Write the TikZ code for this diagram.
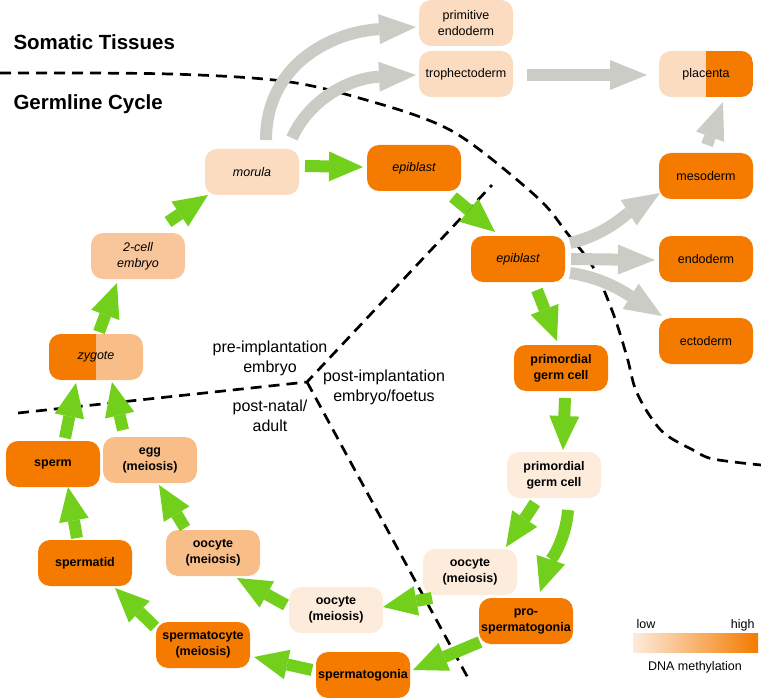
\documentclass[tikz,border=0pt]{standalone}
\usepackage{fontspec}
\setmainfont{Liberation Sans}
\usetikzlibrary{arrows.meta,calc}
\definecolor{dark}{HTML}{F47B00}
\definecolor{med}{HTML}{F9BE88}
\definecolor{medtwo}{HTML}{F9C69C}
\definecolor{lite}{HTML}{FBDCC1}
\definecolor{pale}{HTML}{FDEBDC}
\definecolor{grn}{HTML}{72CF1B}
\definecolor{gry}{HTML}{CCCCC7}
\begin{document}
\begin{tikzpicture}[x=1pt,y=-1pt,
  box/.style={rounded corners=12pt,minimum width=94pt,minimum height=46pt,inner sep=0pt,align=center,font=\fontsize{12.5}{16}\selectfont},
  germ/.style={box,font=\fontsize{12.5}{16}\selectfont\bfseries},
  emb/.style={box,font=\fontsize{12.5}{16}\selectfont\itshape},
  garrow/.style={draw=grn,line width=12pt,-{Triangle[length=34pt,width=30pt,line width=0pt]}},
  sarrow/.style={draw=gry,line width=12pt,-{Triangle[length=37pt,width=30pt,line width=0pt]}},
  dline/.style={draw=black,line width=2.7pt,dash pattern=on 11pt off 7pt},
  region/.style={align=center,font=\fontsize{16}{20}\selectfont},
  head/.style={anchor=west,font=\fontsize{20.5}{24}\selectfont\bfseries},
  leg/.style={font=\fontsize{12.5}{15}\selectfont}]
\useasboundingbox (0,0) rectangle (761,698);

% dashed separators
\draw[dline] plot[smooth,tension=0.55] coordinates {(0,73) (170,74) (290,82) (380,104) (440,125) (480,150) (540,200) (567,233) (593,267) (613,313) (627,357) (635,388) (648,413) (665,434) (693,450) (713,459) (761,465)};
\draw[dline] (18,413) -- (307,382) -- (492,185);
\draw[dline] (307,382) -- (468,678);

% headings
\node[head] (som) at (10,42) {Somatic Tissues};
\node[head] (gcy) at (10,104) {Germline Cycle};

% region labels
\node[region] (pre) at (270,358) {pre-implantation\\embryo};
\node[region] (post) at (384,387) {post-implantation\\embryo/foetus};
\node[region] (adult) at (270,416) {post-natal/\\adult};

% somatic nodes
\node[box,fill=lite] (prim) at (466,23) {primitive\\endoderm};
\node[box,fill=lite] (troph) at (466,74) {trophectoderm};
\node[box,fill=lite,path picture={\fill[dark,sharp corners] (path picture bounding box.north) rectangle (path picture bounding box.south east);}] (plac) at (706,74) {placenta};
\node[box,fill=dark] (meso) at (706,176) {mesoderm};
\node[box,fill=dark] (endo) at (706,259) {endoderm};
\node[box,fill=dark] (ecto) at (706,341) {ectoderm};

% embryo nodes
\node[emb,fill=lite] (mor) at (252,172) {morula};
\node[emb,fill=dark] (epia) at (414,168) {epiblast};
\node[emb,fill=dark] (epib) at (518,259) {epiblast};
\node[emb,fill=medtwo] (cell) at (138,256) {2-cell\\embryo};
\node[emb,fill=med,path picture={\fill[dark,sharp corners] (path picture bounding box.north west) rectangle (path picture bounding box.south);}] (zyg) at (96,357) {zygote};

% germline nodes
\node[germ,fill=dark] (pgca) at (561,368) {primordial\\germ cell};
\node[germ,fill=pale] (pgcb) at (554,475) {primordial\\germ cell};
\node[germ,fill=pale] (ooca) at (470,572) {oocyte\\(meiosis)};
\node[germ,fill=dark] (pros) at (526,621) {pro-\\spermatogonia};
\node[germ,fill=dark] (sgon) at (363,675) {spermatogonia};
\node[germ,fill=pale] (oocb) at (336,610) {oocyte\\(meiosis)};
\node[germ,fill=dark] (scyt) at (203,645) {spermatocyte\\(meiosis)};
\node[germ,fill=med] (oocc) at (213,553) {oocyte\\(meiosis)};
\node[germ,fill=dark] (stid) at (85,563) {spermatid};
\node[germ,fill=dark] (sperm) at (53,464) {sperm};
\node[germ,fill=med] (egg) at (150,460) {egg\\(meiosis)};

% green arrows
\draw[garrow] ($(zyg)+(3,-25)$) -- ($(cell)+(-21,27)$);
\draw[garrow] ($(cell)+(30,-34)$) -- ($(mor)+(-44,23)$);
\draw[garrow] ($(mor)+(53,-6)$) -- ($(epia)+(-51,-1)$);
\draw[garrow] ($(epia)+(39,29)$) -- ($(epib)+(-23,-27)$);
\draw[garrow] ($(epib)+(19,31)$) -- ($(pgca)+(-4,-27)$);
\draw[garrow] ($(pgca)+(4,30)$) -- ($(pgcb)+(9,-25)$);
\draw[garrow] ($(pgcb)+(-19,28)$) -- ($(ooca)+(36,-25)$);
\draw[garrow] ($(pgcb)+(14,35)$) .. controls +(-2,30) and +(10,-30) .. ($(pros)+(14,-29)$);
\draw[garrow] ($(ooca)+(-38,26)$) -- ($(oocb)+(47,-3)$);
\draw[garrow] ($(pros)+(-46,21)$) -- ($(sgon)+(50,-5)$);
\draw[garrow] ($(oocb)+(-50,-5)$) -- ($(oocc)+(24,25)$);
\draw[garrow] ($(sgon)+(-51,-5)$) -- ($(scyt)+(51,12)$);
\draw[garrow] ($(scyt)+(-48,-18)$) -- ($(stid)+(30,25)$);
\draw[garrow] ($(oocc)+(-28,-25)$) -- ($(egg)+(9,25)$);
\draw[garrow] ($(stid)+(-8,-25)$) -- ($(sperm)+(15,23)$);
\draw[garrow] ($(sperm)+(12,-26)$) -- ($(zyg)+(-20,26)$);
\draw[garrow] ($(egg)+(-27,-30)$) -- ($(zyg)+(16,25)$);

% grey arrows
\draw[sarrow] ($(mor)+(14,-32)$) .. controls +(0,-75) and +(-85,5) .. ($(prim)+(-50,4)$);
\draw[sarrow] ($(mor)+(40,-34)$) .. controls +(18,-40) and +(-65,3) .. ($(troph)+(-50,1)$);
\draw[sarrow] ($(troph)+(61,1)$) -- ($(plac)+(-59,1)$);
\draw[sarrow] ($(meso)+(1,-31)$) -- ($(plac)+(17,28)$);
\draw[sarrow] ($(epib)+(52,-16)$) .. controls +(35,-8) and +(-35,22) .. ($(meso)+(-46,17)$);
\draw[sarrow] ($(epib)+(53,0)$) -- ($(endo)+(-51,1)$);
\draw[sarrow] ($(epib)+(52,14)$) .. controls +(35,5) and +(-35,-22) .. ($(ecto)+(-44,-25)$);

% legend
\shade[left color=pale,right color=dark] (633,633) rectangle (758,652);
\node[leg,anchor=base west] (low) at (633,628) {low};
\node[leg,anchor=base east] (high) at (758,628) {high};
\node[leg] (dna) at (695,667) {DNA methylation};
\end{tikzpicture}
\end{document}
